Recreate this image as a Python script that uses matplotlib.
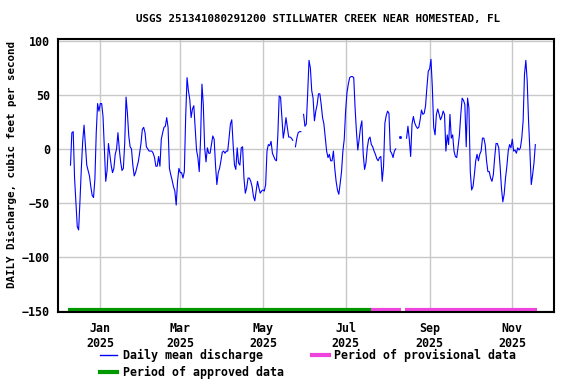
import numpy as np
import matplotlib
matplotlib.use("Agg")
import matplotlib.pyplot as plt

# Daily mean discharge, cfs, one value per day from the start date (nan = missing)
start_date = np.datetime64("2024-12-10")
nan = np.nan
discharge = [
    -15, 15, 16, -27, -50, -72, -75, -48, -18, 7,
    22, 3, -15, -20, -25, -35, -43, -45, -28, 15,
    42, 35, 42, 42, 30, 0, -30, -20, 5, -5,
    -15, -22, -18, -5, 0, 15, 0, -12, -20, -18,
    5, 48, 33, 12, 2, 0, -15, -25, -22, -17,
    -12, -4, 5, 18, 20, 15,
    2, 0, -2, -2, -2, -4, -8, -16, -16, -7,
    -16, 9, 15, 20, 21, 29, 20, -18, -24, -29,
    -35, -39, -52, -30, -18, -22, -22, -27, -21, 30,
    66, 54, 46, 29, 37, 40, 20, -1, -8, -21,
    10, 60, 41, 1, -12, 1, -4, -4, 4, 12,
    9, -15, -33, -22, -18, -11, -3, -2,
    -4, -2, -2, 10, 23, 27, 4, -15, -19, 1,
    -13, -15, 1, 2, -27, -41, -36, -27, -27, -30,
    -35, -44, -48, -39, -30, -36, -41, -39, -38, -39,
    -33, -2, 4, 3, 7, -4, -7, -10, -11, 13,
    49, 48, 29, 10, 18, 29, 20, 11, 11, 10,
    8, nan, 2, 10, 15, 16, 16, nan,
    32, 21, 23, 51, 82, 75, 54, 47, 26, 35,
    41, 51, 51, 41, 29, 23, 10, -2, -8, -5,
    -11, -11, -2, -18, -30, -38, -42, -32, -21, -2,
    9, 35, 52, 60, 66, 67, 67, 66, 38, 16,
    -1, 9, 20, 26, -5, -19, -13, 1, 9, 11,
    4, 2, -2, -5, -9, -11, -8, -7, -30, -16,
    24, 31, 35, 33, -2, -4, -8, -2, 0,
    nan, nan, 11, nan, nan, nan, nan,
    10, 21, 9, -7, 23, 30, 24, 21, 19, 20,
    27, 36, 32, 33, 40, 57, 72, 74, 83, 57,
    20, 13, 32, 37, 32, 27, 30, 35, 32, -2,
    13, 4, 32, 10, 13, -2, -7, -8, 2, 13,
    32, 47, 45,
    41, 2, 47, 38, -21, -38, -35, -24, -11, -5,
    -11, -5, -2, 10, 10, 4, -11, -21, -21, -27,
    -30, -24, -8, 5, 5, 1, -16, -36, -49, -42,
    -27, -16, -2, 4, 1, 9, -2, -1, -4, 1,
    -1, 1, 10, 26, 69, 82, 63, 26, -2, -33,
    -24, -13, 4,
]

approved_periods = [("2024-12-08", "2025-07-20")]
provisional_periods = [("2025-07-20", "2025-08-11"), ("2025-08-14", "2025-11-19")]

month_ticks = ["2025-01-01", "2025-03-01", "2025-05-01",
               "2025-07-01", "2025-09-01", "2025-11-01"]
month_labels = ["Jan\n2025", "Mar\n2025", "May\n2025",
                "Jul\n2025", "Sep\n2025", "Nov\n2025"]
y_ticks = [-150, -100, -50, 0, 50, 100]

title = "USGS 251341080291200 STILLWATER CREEK NEAR HOMESTEAD, FL"
ylabel = "DAILY Discharge, cubic feet per second"

plt.rcParams["font.family"] = ["DejaVu Sans Mono"]
plt.rcParams["font.weight"] = "bold"
plt.rcParams["font.size"] = 8.4

q = np.array(discharge, dtype=float)
dates = start_date + np.arange(len(q))

fig = plt.figure(figsize=(5.76, 3.84), dpi=100)
ax = fig.add_axes([58.3 / 576, 72 / 384, 496 / 576, 272.7 / 384])

ax.grid(True, color="#c8c8c8", linewidth=1.0)
ax.set_axisbelow(True)

ax.plot(dates, q, color="#0000ff", linewidth=0.8)
# single days surrounded by gaps still show up as a dot
valid = ~np.isnan(q)
prev_ok = np.r_[False, valid[:-1]]
next_ok = np.r_[valid[1:], False]
lone = valid & ~prev_ok & ~next_ok
ax.plot(dates[lone], q[lone], "s", color="#0000ff", markersize=1.0)

bar_y = -149
for s, e in approved_periods:
    ax.plot([np.datetime64(s), np.datetime64(e)], [bar_y, bar_y],
            color="#009900", linewidth=3, solid_capstyle="butt")
for s, e in provisional_periods:
    ax.plot([np.datetime64(s), np.datetime64(e)], [bar_y, bar_y],
            color="#ee44dd", linewidth=3, solid_capstyle="butt")

ax.set_xlim(np.datetime64("2024-12-01"), np.datetime64("2025-12-02"))
ax.set_ylim(-151, 101.5)
ax.set_xticks([np.datetime64(m) for m in month_ticks])
ax.set_xticklabels(month_labels)
ax.set_yticks(y_ticks)
ax.tick_params(axis="both", length=0)
ax.tick_params(axis="y", pad=6)
ax.tick_params(axis="x", pad=7)
for sp in ax.spines.values():
    sp.set_linewidth(1.5)
    sp.set_color("black")

fig.text(318 / 576, 1 - 19 / 384, title, ha="center", va="center", fontsize=7.8)
fig.text(12 / 576, 1 - 164 / 384, ylabel, rotation=90, ha="center", va="center",
         fontsize=7.8)

h_daily = plt.Line2D([], [], color="#0000ff", linewidth=1.0)
h_appr = plt.Line2D([], [], color="#009900", linewidth=3)
h_prov = plt.Line2D([], [], color="#ee44dd", linewidth=3)
fig.legend([h_daily, h_appr, h_prov],
           ["Daily mean discharge", "Period of approved data",
            "Period of provisional data"],
           ncol=2, loc="upper left", bbox_to_anchor=(100 / 576, 1 - 349 / 384),
           frameon=False, borderpad=0, borderaxespad=0,
           handlelength=1.45, handletextpad=0.5, columnspacing=2.4,
           labelspacing=0.3)

fig.savefig("out.png", dpi=100)
